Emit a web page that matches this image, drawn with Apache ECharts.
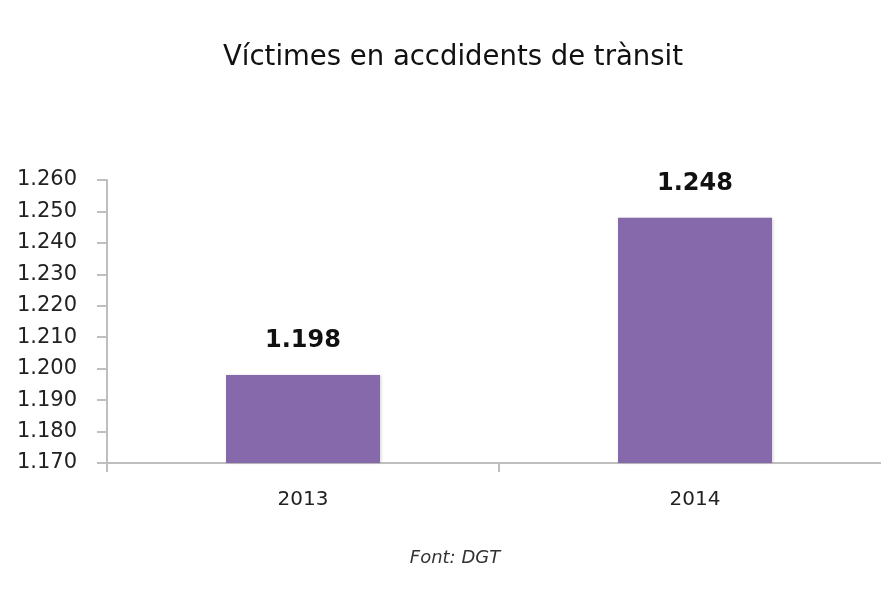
<!DOCTYPE html>
<html>
<head>
<meta charset="utf-8">
<script src="https://cdn.jsdelivr.net/npm/echarts@6/dist/echarts.min.js"></script>
<style>html,body{margin:0;padding:0;background:#fff;overflow:hidden;width:881px;height:604px;}#c{width:900px;height:604px;}</style>
</head>
<body>
<div id="c"></div>
<script>
const titleText = 'Víctimes en accdidents de trànsit';
const sourceText = 'Font: DGT';
const categories = ['2013', '2014'];
const victims = [1198, 1248];
const yMin = 1170;
const yMax = 1260;
const yStep = 10;

function fmt(v) {
  return String(v).replace(/\B(?=(\d{3})+(?!\d))/g, '.');
}

const chart = echarts.init(document.getElementById('c'), null, {renderer: 'canvas'});
chart.setOption({
  backgroundColor: '#ffffff',
  animation: false,
  title: [{
    text: titleText,
    left: 448,
    textAlign: 'center',
    top: 39,
    textStyle: {fontFamily: 'DejaVu Sans', fontSize: 27.5, fontWeight: 'normal', color: '#111'}
  }, {
    text: sourceText,
    left: 450,
    textAlign: 'center',
    top: 544,
    textStyle: {fontFamily: 'DejaVu Sans', fontSize: 18, fontStyle: 'italic', fontWeight: 'normal', color: '#333'}
  }],
  grid: {left: 107, top: 180, right: 9, bottom: 141, containLabel: false},
  xAxis: {
    type: 'category',
    data: categories,
    axisLine: {lineStyle: {color: '#BFBFBF', width: 2}},
    axisTick: {show: true, length: 9, lineStyle: {color: '#BFBFBF', width: 2}},
    axisLabel: {margin: 27, fontFamily: 'DejaVu Sans', fontSize: 20, color: '#222'}
  },
  yAxis: {
    type: 'value',
    min: yMin,
    max: yMax,
    interval: yStep,
    splitLine: {show: false},
    axisLine: {show: true, lineStyle: {color: '#BFBFBF', width: 2}},
    axisTick: {show: true, length: 10, lineStyle: {color: '#BFBFBF', width: 2}},
    axisLabel: {margin: 30, fontFamily: 'DejaVu Sans', fontSize: 21, color: '#222', formatter: fmt}
  },
  series: [{
    type: 'bar',
    data: victims,
    barWidth: 154,
    itemStyle: {color: '#8669AA', shadowBlur: 3, shadowColor: 'rgba(0,0,0,0.18)', shadowOffsetX: 1},
    label: {
      show: true,
      position: 'top',
      distance: 22,
      fontFamily: 'DejaVu Sans',
      fontSize: 24,
      fontWeight: 'bold',
      color: '#111',
      formatter: p => fmt(p.value)
    }
  }]
});
</script>
</body>
</html>
